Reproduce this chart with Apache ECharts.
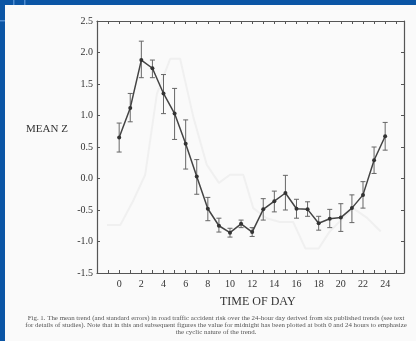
<!DOCTYPE html>
<html>
<head>
<meta charset="utf-8">
<script src="https://cdn.jsdelivr.net/npm/echarts@6/dist/echarts.min.js"></script>
<style>
  html, body { margin: 0; padding: 0; background: #0b55a5; }
  #chart { width: 416px; height: 341px; }
</style>
</head>
<body>
<div id="chart"></div>
<script>
// hours of day (midnight plotted at both 0 and 24)
const hours = [0, 1, 2, 3, 4, 5, 6, 7, 8, 9, 10, 11, 12, 13, 14, 15, 16, 17, 18, 19, 20, 21, 22, 23, 24];
const meanZ = [0.65, 1.12, 1.88, 1.75, 1.35, 1.03, 0.55, 0.03, -0.48, -0.75, -0.86, -0.72, -0.85,
  -0.49, -0.36, -0.23, -0.48, -0.49, -0.71, -0.64, -0.62, -0.47, -0.26, 0.29, 0.67];
const errHigh = [0.88, 1.35, 2.18, 1.88, 1.65, 1.43, 0.93, 0.30, -0.30, -0.63, -0.79, -0.66, -0.78,
  -0.32, -0.20, 0.05, -0.33, -0.37, -0.60, -0.49, -0.40, -0.26, -0.05, 0.50, 0.89];
const errLow = [0.42, 0.90, 1.60, 1.60, 1.03, 0.62, 0.15, -0.25, -0.67, -0.85, -0.93, -0.78, -0.92,
  -0.66, -0.53, -0.50, -0.63, -0.60, -0.82, -0.78, -0.84, -0.70, -0.47, 0.08, 0.45];

// faint show-through trace from the reverse page of the scan
const ghostHours = [-1.1, 0.1, 1.3, 2.35, 3.4, 4.6, 5.5, 6.7, 7.9, 9.0, 10.0, 11.2, 12.1, 13.3,
  14.5, 15.7, 16.8, 18.0, 19.0, 21.1, 22.4, 23.6];
const ghostValues = [-0.74, -0.74, -0.34, 0.06, 1.34, 1.9, 1.9, 0.97, 0.22, -0.07, 0.06, 0.06,
  -0.47, -0.63, -0.69, -0.69, -1.11, -1.11, -0.84, -0.47, -0.63, -0.84];

const yTicks = [-1.5, -1.0, -0.5, 0.0, 0.5, 1.0, 1.5, 2.0, 2.5];
const xLabels = [0, 2, 4, 6, 8, 10, 12, 14, 16, 18, 20, 22, 24];

const caption = [
  'Fig. 1. The mean trend (and standard errors) in road traffic accident risk over the 24-hour day derived from six published trends (see text',
  'for details of studies). Note that in this and subsequent figures the value for midnight has been plotted at both 0 and 24 hours to emphasize',
  'the cyclic nature of the trend.'
];

const serif = '"Liberation Serif", "DejaVu Serif", serif';
const axisColor = '#555';

const chart = echarts.init(document.getElementById('chart'));

const tickAxisCommon = {
  axisLine: { onZero: false, lineStyle: { color: axisColor, width: 1.2 } },
  axisTick: { inside: true, length: 3, lineStyle: { color: axisColor } },
  splitLine: { show: false }
};

const option = {
  backgroundColor: '#fafafa',
  animation: false,
  grid: { left: 97, top: 21, right: 12, bottom: 68 },
  xAxis: [
    {
      type: 'value',
      min: -2,
      max: 25.7,
      interval: 1,
      ...tickAxisCommon,
      axisLabel: {
        margin: 6,
        fontFamily: serif,
        fontSize: 10,
        color: '#333',
        showMaxLabel: false,
        formatter: (v) => (xLabels.includes(v) ? String(v) : '')
      }
    },
    {
      type: 'value',
      position: 'top',
      min: -2,
      max: 25.7,
      interval: 1,
      ...tickAxisCommon,
      axisLabel: { show: false }
    }
  ],
  yAxis: [
    {
      type: 'value',
      min: -1.5,
      max: 2.5,
      interval: 0.5,
      ...tickAxisCommon,
      axisLabel: {
        margin: 4,
        fontFamily: serif,
        fontSize: 10,
        color: '#333',
        formatter: (v) => (yTicks.includes(v) ? v.toFixed(1) : '')
      }
    },
    {
      type: 'value',
      position: 'right',
      min: -1.5,
      max: 2.5,
      interval: 0.5,
      ...tickAxisCommon,
      axisLabel: { show: false }
    }
  ],
  series: [
    {
      name: 'ghost',
      type: 'line',
      data: ghostHours.map((h, i) => [h, ghostValues[i]]),
      symbol: 'none',
      silent: true,
      z: 1,
      lineStyle: { color: '#f0f0f0', width: 2 }
    },
    {
      name: 'error',
      type: 'custom',
      z: 2,
      data: hours.map((h, i) => [h, errLow[i], errHigh[i]]),
      renderItem: (params, api) => {
        const lo = api.coord([api.value(0), api.value(1)]);
        const hi = api.coord([api.value(0), api.value(2)]);
        const cap = 2.5;
        const style = { stroke: '#666', lineWidth: 1 };
        return {
          type: 'group',
          children: [
            { type: 'line', shape: { x1: hi[0], y1: hi[1], x2: lo[0], y2: lo[1] }, style },
            { type: 'line', shape: { x1: hi[0] - cap, y1: hi[1], x2: hi[0] + cap, y2: hi[1] }, style },
            { type: 'line', shape: { x1: lo[0] - cap, y1: lo[1], x2: lo[0] + cap, y2: lo[1] }, style }
          ]
        };
      }
    },
    {
      name: 'mean',
      type: 'line',
      z: 3,
      data: hours.map((h, i) => [h, meanZ[i]]),
      symbol: 'circle',
      symbolSize: 4,
      itemStyle: { color: '#333' },
      lineStyle: { color: '#444', width: 1.5 }
    }
  ],
  graphic: [
    // slide frame
    { type: 'rect', shape: { x: 0, y: 0, width: 416, height: 5 }, style: { fill: '#0b55a5' }, z: 10 },
    { type: 'rect', shape: { x: 0, y: 0, width: 5, height: 341 }, style: { fill: '#0b55a5' }, z: 10 },
    { type: 'rect', shape: { x: 13, y: 0, width: 1.5, height: 5 }, style: { fill: '#4d8bd0' }, z: 11 },
    { type: 'rect', shape: { x: 24, y: 0, width: 1.5, height: 5 }, style: { fill: '#4d8bd0' }, z: 11 },
    { type: 'rect', shape: { x: 0, y: 20, width: 5, height: 1.5 }, style: { fill: '#4d8bd0' }, z: 11 },
    {
      type: 'text', left: 26, top: 124,
      style: { text: 'MEAN Z', font: '11px ' + serif, fill: '#333' }
    },
    {
      type: 'text', left: 220, top: 296,
      style: { text: 'TIME OF DAY', font: '12px ' + serif, fill: '#333' }
    },
    ...caption.map((line, i) => ({
      type: 'text',
      x: 216,
      y: 315 + i * 7,
      style: { text: line, font: '6.9px ' + serif, fill: '#555', align: 'center' }
    }))
  ]
};

chart.setOption(option);
</script>
</body>
</html>
